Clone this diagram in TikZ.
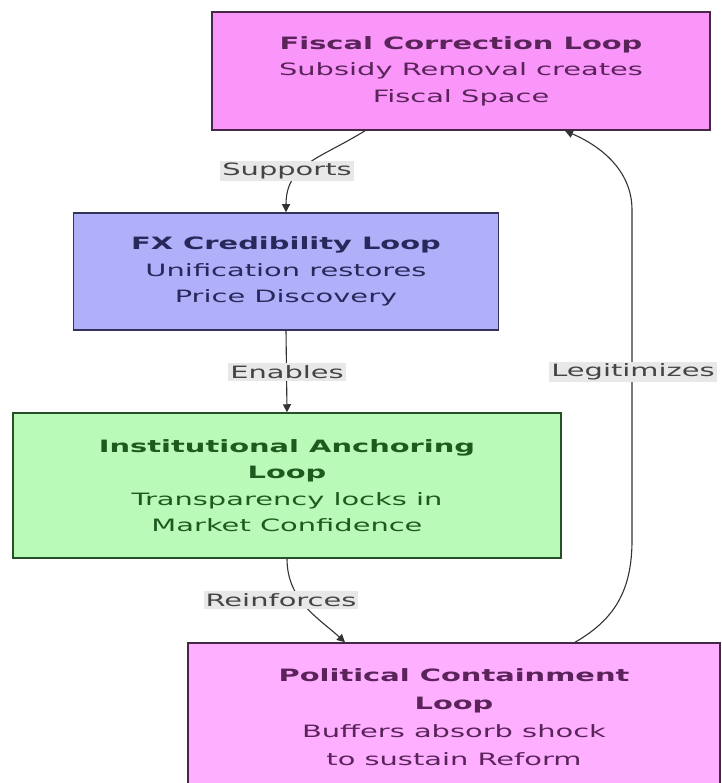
\documentclass[tikz,border=0pt]{standalone}
\usepackage{fontspec}
\setmainfont{DejaVu Sans}[FakeStretch=1.7]
\usetikzlibrary{arrows.meta}
\definecolor{fiscfill}{RGB}{250,150,250}
\definecolor{fiscline}{RGB}{70,40,70}
\definecolor{fisctext}{RGB}{90,35,90}
\definecolor{fxfill}{RGB}{175,175,250}
\definecolor{fxline}{RGB}{50,50,90}
\definecolor{fxtext}{RGB}{40,40,90}
\definecolor{instfill}{RGB}{185,250,185}
\definecolor{instline}{RGB}{40,80,40}
\definecolor{insttext}{RGB}{30,90,30}
\definecolor{polfill}{RGB}{255,175,255}
\definecolor{linkgray}{RGB}{51,51,51}
\definecolor{lblgray}{RGB}{232,232,232}
\definecolor{lbltext}{RGB}{68,68,68}

\begin{document}
\begin{tikzpicture}[x=1pt, y=1pt, font=\fontsize{17}{26.5}\selectfont,
  loopbox/.style={draw, line width=1.5pt, align=center, inner sep=0pt},
  link/.style={draw=linkgray, line width=1.1pt, -{Triangle[length=8pt,width=8pt]}},
  lbl/.style={fill=lblgray, text=lbltext, inner sep=2pt}]
  \useasboundingbox (0,0) rectangle (721,-783);
  % loops
  \node[loopbox, fill=fiscfill, draw=fiscline, text=fisctext, minimum width=498, minimum height=118] (fiscal) at (461,-71)
    {\textbf{Fiscal Correction Loop}\\Subsidy Removal creates\\Fiscal Space};
  \node[loopbox, fill=fxfill, draw=fxline, text=fxtext, minimum width=425, minimum height=117] (fx) at (286,-271.5)
    {\textbf{FX Credibility Loop}\\Unification restores\\Price Discovery};
  \node[loopbox, fill=instfill, draw=instline, text=insttext, minimum width=548, minimum height=145] (inst) at (287,-485.5)
    {\textbf{Institutional Anchoring}\\\textbf{Loop}\\Transparency locks in\\Market Confidence};
  \node[loopbox, fill=polfill, draw=fiscline, text=fisctext, minimum width=532, minimum height=148,
    font=\fontsize{17}{28}\selectfont] (pol) at (454,-717)
    {\textbf{Political Containment}\\\textbf{Loop}\\Buffers absorb shock\\to sustain Reform};
  % links
  \draw[link] ([xshift=-96pt]fiscal.south) .. controls +(-45,-28) and +(0,48) .. (fx.north);
  \draw[link] (fx.south) -- (inst.north);
  \draw[link] (inst.south) .. controls +(0,-42) and +(-25,23) .. ([xshift=-109pt]pol.north);
  \draw[link] ([xshift=121pt]pol.north) .. controls +(40,23) and +(0,-50) .. (632,-540)
    -- (632,-210) .. controls +(0,40) and +(35,-15) .. ([xshift=104pt]fiscal.south);
  % link labels
  \node[lbl] (supLbl) at (287,-171) {Supports};
  \node[lbl] (enaLbl) at (287,-372) {Enables};
  \node[lbl] (reiLbl) at (281,-600) {Reinforces};
  \node[lbl] (legLbl) at (633,-372) {Legitimizes};
\end{tikzpicture}
\end{document}
